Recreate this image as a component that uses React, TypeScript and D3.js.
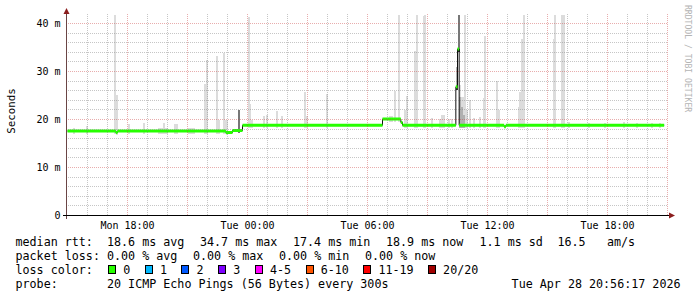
import React from 'react';
import * as d3 from 'd3';

// ---------------- data ----------------
const startTime = new Date(2026, 3, 27, 15, 0, 0);
const endTime = new Date(2026, 3, 28, 21, 0, 0);
const stepMinutes = 5;
const lastSample = 358;
const yMaxMs = 41.67;

// median rtt (ms) as a step series: value holds from sample index until next change
const medianStart = [0, 29, 30, 95, 99, 105, 189, 200, 201, 233, 234, 235, 262, 263];
const medianMs = [17.6, 17.3, 17.6, 17.3, 17.7, 18.8, 20.1, 19.4, 18.8, 26.8, 34.7, 18.8, 18.5, 18.8];

// smoke (ping spread) per sample: sample index, top value (ms), shade level (0 light .. 3 darkest)
const smokeSample = [
  3, 11, 28, 29, 36, 45, 54, 55, 56, 57, 58, 59, 64, 65, 72, 73, 74, 75,
  82, 83, 89, 90, 93, 94, 95, 102, 108, 109, 110, 117, 119, 125, 128, 142, 143, 155,
  193, 194, 196, 198, 202, 203, 208, 209, 213, 214, 218, 223, 224, 225, 228, 230,
  233, 233, 234, 234, 235, 235, 236, 236, 237, 237, 238, 239,
  241, 243, 247, 249, 250, 257, 258, 270, 271, 272, 273, 291, 292, 296, 297,
  300, 312, 322, 333, 341, 350, 355,
];
const smokeHighMs = [
  18.3, 18.6, 41.7, 25.2, 19.0, 19.2, 18.3, 18.3, 18.3, 19.2, 18.3, 18.3, 19.0, 19.0, 18.3, 18.3, 18.3, 18.3,
  27.3, 32.4, 33.3, 20.0, 33.9, 19.8, 19.8, 22.0, 41.3, 23.3, 19.8, 20.8, 20.9, 21.7, 20.8, 25.7, 20.8, 25.3,
  20.8, 20.8, 26.0, 41.7, 22.0, 25.0, 34.2, 41.7, 41.5, 41.7, 20.3, 20.1, 21.0, 21.0, 20.1, 20.1,
  31.0, 26.7, 41.7, 34.6, 27.1, 24.6, 24.6, 22.6, 24.6, 21.0, 41.7, 22.0,
  24.0, 20.3, 20.5, 24.5, 37.3, 28.1, 21.9, 22.6, 25.7, 36.7, 41.7, 36.7, 41.7, 41.7, 41.7,
  19.4, 19.2, 19.3, 19.4, 19.3, 19.3, 19.2,
];
const smokeShade = [
  0, 0, 0, 0, 0, 0, 0, 0, 0, 0, 0, 0, 0, 0, 0, 0, 0, 0,
  0, 0, 0, 0, 0, 0, 0, 2, 0, 0, 0, 0, 0, 0, 0, 0, 0, 0,
  0, 0, 0, 0, 0, 0, 0, 0, 0, 0, 0, 0, 0, 0, 0, 0,
  1, 3, 2, 3, 0, 1, 0, 1, 0, 1, 0, 0,
  0, 0, 0, 0, 0, 0, 0, 0, 0, 0, 0, 0, 0, 0, 0,
  0, 0, 0, 0, 0, 0, 0,
];

const medianStats = ['18.6 ms avg', '34.7 ms max', '17.4 ms min', '18.9 ms now', '1.1 ms sd', '16.5', 'am/s'];
const lossStats = ['0.00 % avg', '0.00 % max', '0.00 % min', '0.00 % now'];
const lossLegendLabels = ['0', '1', '2', '3', '4-5', '6-10', '11-19', '20/20'];
const probeText = '20 ICMP Echo Pings (56 Bytes) every 300s';
const dateText = 'Tue Apr 28 20:56:17 2026';
const watermark = 'RRDTOOL / TOBI OETIKER';
const yTitle = 'Seconds';

// ---------------- styles ----------------
const lossColors = ['#26ff00', '#00b8ff', '#0059ff', '#7e00ff', '#ff00ff', '#ff5500', '#ff0000', '#a10000'];
const shadeColors = ['#dcdcdc', '#b0b0b0', '#777777', '#303030'];
const MONO = '"DejaVu Sans Mono", monospace';

export default function App() {
  const W = 697;
  const H = 297;
  const left = 67.5;
  const right = 667.5;
  const top = 15.5;
  const bottom = 215.5;

  const x = d3.scaleTime().domain([startTime, endTime]).range([left, right]);
  const y = d3.scaleLinear().domain([0, yMaxMs]).range([bottom, top]);
  const sx = (i: number) => x(d3.timeMinute.offset(startTime, i * stepMinutes));
  const medianAt = (i: number) => medianMs[d3.bisectRight(medianStart, i) - 1];

  const bars = smokeSample
    .map((s, k) => ({ s, hi: smokeHighMs[k], shade: smokeShade[k], lo: medianAt(s) - 0.6 }))
    .sort((a, b) => a.shade - b.shade || a.hi - b.hi);

  const stepPts: [number, number][] = medianStart.map((s, k) => [sx(s), y(medianMs[k])]);
  stepPts.push([sx(lastSample), y(medianMs[medianMs.length - 1])]);
  const darkLine = d3.line().curve(d3.curveStepAfter)(stepPts) || '';

  const greenPath = medianStart
    .map((s, k) => {
      const e = k + 1 < medianStart.length ? medianStart[k + 1] : lastSample;
      return `M${sx(s)},${y(medianMs[k])}H${sx(e)}`;
    })
    .join('');

  const yMinor = y.ticks(20);
  const yMajor = y.ticks(5);
  const xMinor = d3.timeHour.every(1)!.range(startTime, d3.timeMinute.offset(endTime, 1));
  const xMajor = d3.timeHour.every(3)!.range(startTime, d3.timeMinute.offset(endTime, 1));
  const xLabels = d3.timeHour.every(6)!.range(startTime, endTime);
  const fmt = d3.timeFormat('%a %H:%M');
  const yFmt = (v: number) => (v === 0 ? '0' : `${v} m`);

  const minorCol = 'rgba(128,128,128,0.45)';
  const majorCol = 'rgba(200,60,60,0.42)';

  // loss legend layout
  const charW = 7.0;
  let lx = 108.5;
  const lossItems = lossLegendLabels.map((lab, i) => {
    const item = { bx: lx, tx: lx + 14.7, lab, col: lossColors[i] };
    lx = item.tx + lab.length * charW + 15;
    return item;
  });

  const medianX = [107, 200, 293, 386, 479.5, 557.5, 607];
  const lossX = [107, 193, 279, 365];

  return (
    <svg
      width={W}
      height={H}
      style={{ position: 'fixed', left: 0, top: 0, background: '#fff' }}
      fontFamily={MONO}
    >
      <rect x={0} y={0} width={W} height={H} fill="#ffffff" />
      <defs>
        <clipPath id="plot">
          <rect x={left - 0.5} y={top - 0.5} width={right - left} height={bottom - top} />
        </clipPath>
      </defs>

      {/* smoke */}
      <g clipPath="url(#plot)" shapeRendering="crispEdges">
        {bars.map((b, i) => {
          const x0 = Math.round(sx(b.s));
          return (
            <rect
              key={i}
              x={x0}
              width={2}
              y={y(b.hi)}
              height={Math.max(0, y(b.lo) - y(b.hi))}
              fill={shadeColors[b.shade]}
            />
          );
        })}
      </g>

      {/* median */}
      <path d={darkLine} fill="none" stroke="#101010" strokeWidth={1} />
      <path d={greenPath} fill="none" stroke={lossColors[0]} strokeWidth={3} strokeLinecap="butt" />

      {/* grid */}
      <g shapeRendering="crispEdges" strokeDasharray="1,1">
        {yMinor
          .filter((v) => v !== 0 && v % 10 !== 0)
          .map((v) => (
            <line key={'ym' + v} x1={left} x2={right} y1={y(v)} y2={y(v)} stroke={minorCol} />
          ))}
        {xMinor
          .filter((d) => d.getHours() % 3 !== 0 && +d !== +startTime)
          .map((d) => (
            <line key={'xm' + +d} x1={x(d)} x2={x(d)} y1={top - 2} y2={bottom} stroke={minorCol} />
          ))}
        {yMajor
          .filter((v) => v !== 0)
          .map((v) => (
            <line key={'yM' + v} x1={left} x2={right} y1={y(v)} y2={y(v)} stroke={majorCol} />
          ))}
        {xMajor
          .filter((d) => +d !== +startTime)
          .map((d) => (
            <line key={'xM' + +d} x1={x(d)} x2={x(d)} y1={top - 2} y2={bottom} stroke={majorCol} />
          ))}
      </g>

      {/* axes */}
      <g shapeRendering="crispEdges">
        <line x1={66.5} x2={66.5} y1={12} y2={219} stroke="#6a4545" />
        <line x1={63} x2={669} y1={215.5} y2={215.5} stroke="#000" />
      </g>
      <polygon points="66.5,8 63.5,14 69.5,14" fill="#8b1e1e" />
      <polygon points="675,215.5 669,212.5 669,218.5" fill="#8b1e1e" />

      {/* y labels */}
      {yMajor.map((v) => (
        <text key={'yl' + v} x={60.5} y={y(v) + 3.6} fontSize={10} textAnchor="end" fill="#000">
          {yFmt(v)}
        </text>
      ))}
      {/* x labels */}
      {xLabels.map((d) => (
        <text key={'xl' + +d} x={x(d)} y={228.6} fontSize={10} textAnchor="middle" fill="#000">
          {fmt(d)}
        </text>
      ))}

      <text
        transform="translate(14.5,111) rotate(-90)"
        fontSize={10.8}
        textAnchor="middle"
        fill="#000"
      >
        {yTitle}
      </text>

      <text transform="translate(685,5) rotate(90)" fontSize={8.1} fill="#b4b4b4">
        {watermark}
      </text>

      {/* legend */}
      <g fontSize={11.7} fill="#000">
        <text x={15.5} y={245.5}>median rtt:</text>
        {medianStats.map((s, i) => (
          <text key={'ms' + i} x={medianX[i]} y={245.5}>
            {s}
          </text>
        ))}
        <text x={15.5} y={259.5}>packet loss:</text>
        {lossStats.map((s, i) => (
          <text key={'ls' + i} x={lossX[i]} y={259.5}>
            {s}
          </text>
        ))}
        <text x={15.5} y={273.5}>loss color:</text>
        {lossItems.map((it, i) => (
          <g key={'li' + i}>
            <rect x={it.bx} y={265} width={7} height={8} fill={it.col} stroke="#000" strokeWidth={1} shapeRendering="crispEdges" />
            <text x={it.tx} y={273.5}>
              {it.lab}
            </text>
          </g>
        ))}
        <text x={15.5} y={287.5}>probe:</text>
        <text x={107} y={287.5}>
          {probeText}
        </text>
        <text x={680.5} y={287.5} textAnchor="end">
          {dateText}
        </text>
      </g>
    </svg>
  );
}
